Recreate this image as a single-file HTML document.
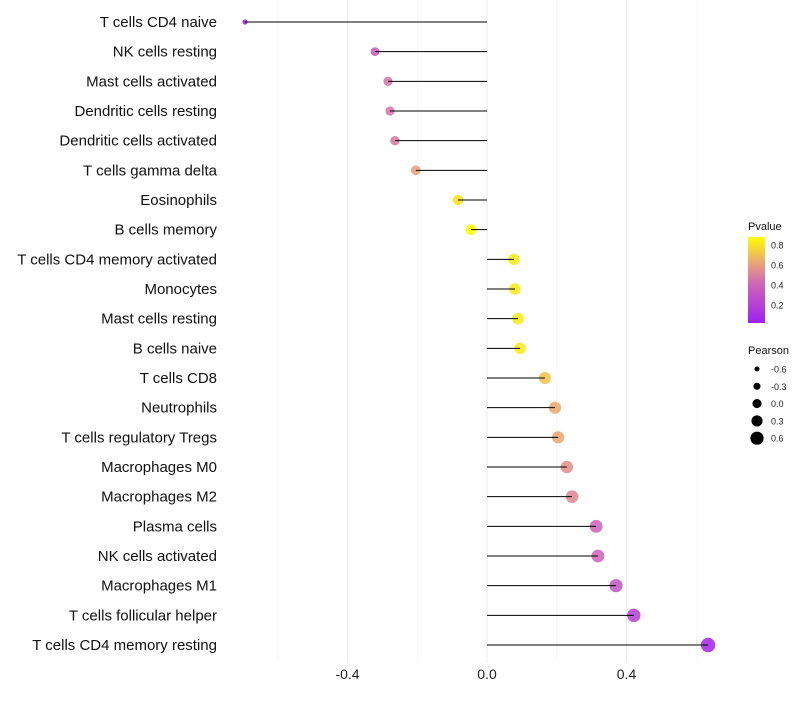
<!DOCTYPE html>
<html><head><meta charset="utf-8"><style>
body{margin:0;background:#fff;font-family:"Liberation Sans",sans-serif}
</style></head><body>
<svg id="chart" width="800" height="700" xmlns="http://www.w3.org/2000/svg">
<defs><linearGradient id="pg" x1="0" y1="1" x2="0" y2="0">
<stop offset="0" stop-color="#a020f0"/><stop offset="0.45" stop-color="#cc66b8"/><stop offset="0.68" stop-color="#e8a07c"/><stop offset="1" stop-color="#ffff00"/></linearGradient></defs>
<g id="grid"></g><g id="points"></g><g id="marks"></g><g id="labels"></g><g id="legend"></g>
</svg>
<script>
const categories=["T cells CD4 naive","NK cells resting","Mast cells activated","Dendritic cells resting","Dendritic cells activated","T cells gamma delta","Eosinophils","B cells memory","T cells CD4 memory activated","Monocytes","Mast cells resting","B cells naive","T cells CD8","Neutrophils","T cells regulatory  Tregs ","Macrophages M0","Macrophages M2","Plasma cells","NK cells activated","Macrophages M1","T cells follicular helper","T cells CD4 memory resting"];
const pearson=[-0.694,-0.321,-0.284,-0.278,-0.264,-0.204,-0.083,-0.046,0.077,0.080,0.089,0.095,0.166,0.195,0.204,0.229,0.244,0.313,0.318,0.370,0.421,0.634];
const pvalues=[0.02,0.35,0.45,0.45,0.47,0.6,0.8,0.88,0.82,0.82,0.82,0.82,0.7,0.63,0.62,0.55,0.52,0.4,0.4,0.3,0.2,0.05];
const xTicks=[-0.4,0.0,0.4];
const xMinor=[-0.6,-0.2,0.2,0.6];
const sizeLegend=[-0.6,-0.3,0.0,0.3,0.6];
const colorTicks=[0.8,0.6,0.4,0.2];
const NS="http://www.w3.org/2000/svg";
const X=v=>487+v*348.75;
const Y=i=>22+i*(623/21);
const R=v=>Math.max(1.5,Math.sqrt(34*(v+0.9)));
const stops=[[0,[160,32,240]],[0.4,[204,102,184]],[0.6,[232,160,124]],[0.88,[255,255,0]]];
function col(p){p=Math.max(0,Math.min(0.88,p));for(let k=1;k<stops.length;k++){if(p<=stops[k][0]){const a=stops[k-1],b=stops[k];const t=(p-a[0])/(b[0]-a[0]);return "rgb("+a[1].map((c,j)=>Math.round(c+(b[1][j]-c)*t)).join(",")+")";}}return "rgb(255,255,0)";}
function mk(tag,attrs,parent,text){const e=document.createElementNS(NS,tag);for(const k in attrs)e.setAttribute(k,attrs[k]);if(text!==undefined)e.textContent=text;document.getElementById(parent).appendChild(e);return e;}
xMinor.forEach(v=>{const l=mk("line",{x1:X(v),x2:X(v),y1:0,y2:662,stroke:"#f3f3f3","stroke-width":0.6},"grid");

});
xTicks.forEach(v=>{const l=mk("line",{x1:X(v),x2:X(v),y1:0,y2:662,stroke:"#ebebeb","stroke-width":1},"grid");


const t=mk("text",{x:X(v),y:679,"text-anchor":"middle","font-size":14,fill:"#222"},"labels",v.toFixed(1));

});
categories.forEach((c,i)=>{const t=mk("text",{x:217,y:Y(i)+5,"text-anchor":"end","font-size":15,fill:"#111"},"labels",c);


const d=mk("circle",{cx:X(pearson[i]),cy:Y(i),r:R(pearson[i]),fill:col(pvalues[i]),"fill-opacity":0.88},"points");


const l=mk("line",{x1:X(0),x2:X(pearson[i]),y1:Y(i),y2:Y(i),stroke:"#000","stroke-width":1},"marks");

});
let t=mk("text",{x:748,y:230,"font-size":11,fill:"#111"},"legend","Pvalue");


const cb=mk("rect",{x:748,y:237,width:17,height:86,fill:"url(#pg)"},"legend");


colorTicks.forEach(v=>{const yy=325-v*100;const tt=mk("text",{x:771,y:yy+3.5,"font-size":9,fill:"#222"},"legend",v.toFixed(1));

});
t=mk("text",{x:748,y:354,"font-size":11,fill:"#111"},"legend","Pearson");


sizeLegend.forEach((v,k)=>{const yy=369+k*17.3;const c=mk("circle",{cx:757,cy:yy,r:2.5+(v+0.6)*3.4,fill:"#000"},"legend");


const tt=mk("text",{x:771,y:yy+3.5,"font-size":9,fill:"#222"},"legend",v.toFixed(1));

});
</script>
</body></html>
